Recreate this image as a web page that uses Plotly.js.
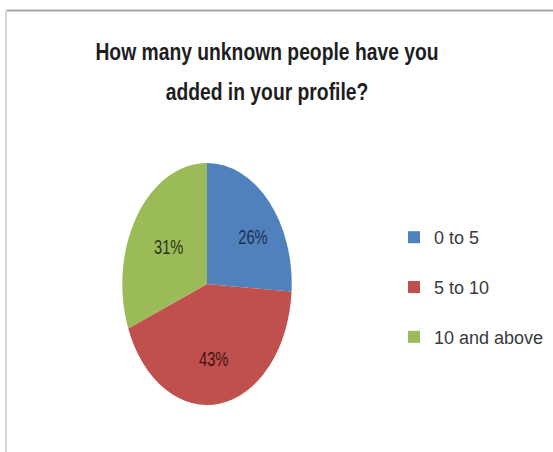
<!DOCTYPE html>
<html>
<head>
<meta charset="utf-8">
<script src="https://cdn.plot.ly/plotly-3.0.1.min.js"></script>
<style>
  html, body { margin: 0; padding: 0; background: #ffffff; }
  #chart { width: 553px; height: 452px; }
  /* the reference pie is drawn as an upright ellipse */
  #chart .pielayer { transform: scaleX(0.70); transform-origin: 207px 284px; }
  /* the reference title uses a condensed face */
  #chart .g-gtitle { transform: scaleX(0.84); transform-origin: 267px 0px; }
</style>
</head>
<body>
<div id="chart"></div>
<script>
const titleLines = ["How many unknown people have you", "added in your profile?"];
const categories = ["0 to 5", "5 to 10", "10 and above"];
const values = [26, 43, 31];
const sliceColors = ["#4F81BD", "#C0504D", "#9BBB59"];
const labelColors = ["#1c2f4a", "#3d1514", "#2b3614"];

const W = 553, H = 452;
const FONT = "Liberation Sans, Arial, sans-serif";
const NB = "\u00a0";

const trace = {
  type: "pie",
  labels: categories.map(c => c + "<br> "),
  values: values,
  sort: false,
  direction: "clockwise",
  rotation: 0,
  textinfo: "percent",
  textposition: "inside",
  insidetextorientation: "horizontal",
  // small nudges so the labels sit where the reference puts them
  texttemplate: [NB.repeat(5) + "%{percent:.0%}", NB + "<br>%{percent:.0%}", "%{percent:.0%}"],
  textfont: { family: FONT, size: 21, color: labelColors },
  marker: { colors: sliceColors, line: { width: 0 } },
  domain: { x: [(207 - 121) / W, (207 + 121) / W], y: [1 - 405 / H, 1 - 163 / H] },
  hoverinfo: "label+percent"
};

const layout = {
  width: W, height: H,
  margin: { l: 0, r: 0, t: 0, b: 0 },
  paper_bgcolor: "#ffffff",
  plot_bgcolor: "#ffffff",
  font: { family: FONT, color: "#3a3a3a" },
  title: {
    text: titleLines.map(t => '<span style="font-size:23px">' + t + '</span>').join("<br>"),
    font: { family: FONT, size: 31, color: "#1e1e1e", weight: "bold" },
    x: 267 / W, xanchor: "center", xref: "paper",
    y: 1 - 60 / H, yanchor: "top", yref: "container"
  },
  showlegend: true,
  legend: {
    x: 394 / W, xanchor: "left",
    y: 1 - 219 / H, yanchor: "top",
    valign: "top",
    bgcolor: "rgba(0,0,0,0)",
    font: { family: FONT, size: 18, color: "#3a3a3a" },
    traceorder: "normal"
  },
  shapes: [
    { type: "line", xref: "paper", yref: "paper", x0: 7 / W, x1: 1, y0: 1 - 10.5 / H, y1: 1 - 10.5 / H,
      line: { color: "#a6a6a6", width: 2 } },
    { type: "line", xref: "paper", yref: "paper", x0: 6 / W, x1: 6 / W, y0: 0, y1: 1 - 10 / H,
      line: { color: "#d6d6d6", width: 2 } }
  ]
};

Plotly.newPlot("chart", [trace], layout, { displayModeBar: false, staticPlot: true });
</script>
</body>
</html>
